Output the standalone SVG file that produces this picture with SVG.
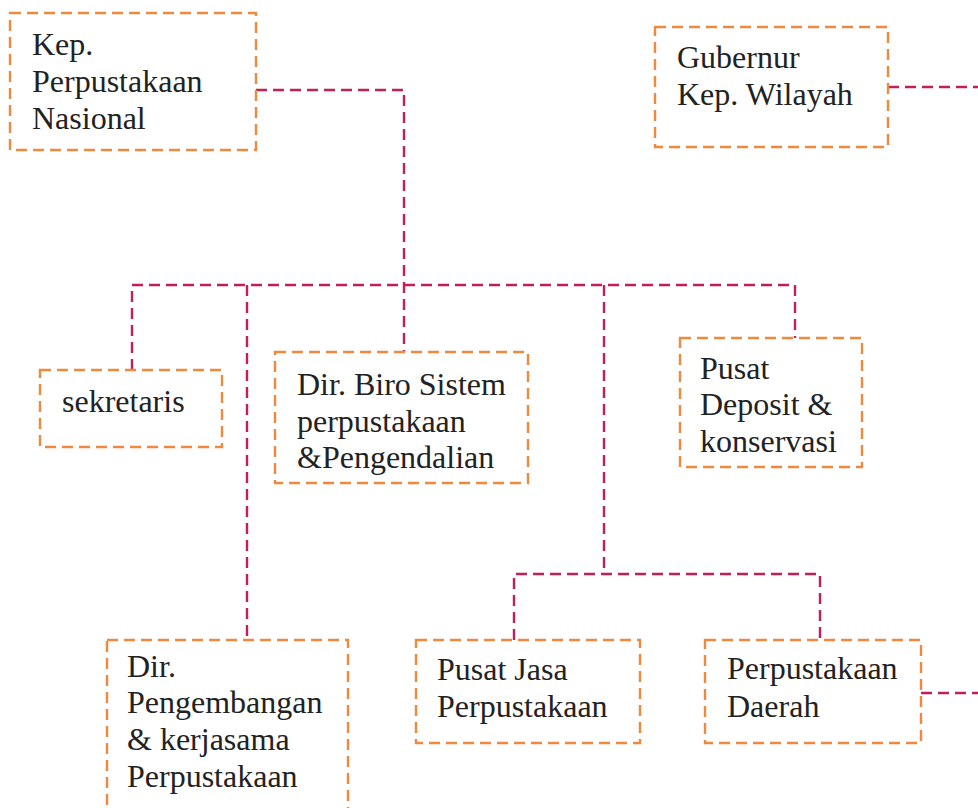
<svg xmlns="http://www.w3.org/2000/svg" width="978" height="808" viewBox="0 0 978 808">
<style>
.box{fill:#ffffff;stroke:#f0883e;stroke-width:2.4;stroke-dasharray:11 6}
.con{fill:none;stroke:#c41e5a;stroke-width:2.4;stroke-dasharray:11 6}
</style>
<rect width="978" height="808" fill="#ffffff"/>
<g id="connectors">
<path class="con" d="M256 90 H404 V352"/>
<path class="con" d="M888 87 H978"/>
<path class="con" d="M132 370 V285 H795 V338"/>
<path class="con" d="M247 285 V640"/>
<path class="con" d="M604 285 V574"/>
<path class="con" d="M514 640 V574 H820 V640"/>
<path class="con" d="M921 693 H978"/>
</g>
<g id="kep-perpustakaan-nasional" font-family="Liberation Serif" font-size="32" fill="#222">
<rect class="box" x="10" y="13" width="246" height="137"/>
<text x="32" y="55">Kep.</text>
<text x="32" y="92">Perpustakaan</text>
<text x="32" y="129">Nasional</text>
</g>
<g id="gubernur" font-family="Liberation Serif" font-size="32" fill="#222">
<rect class="box" x="655" y="27" width="233" height="120"/>
<text x="677" y="68">Gubernur</text>
<text x="677" y="105">Kep. Wilayah</text>
</g>
<g id="sekretaris" font-family="Liberation Serif" font-size="32" fill="#222">
<rect class="box" x="40" y="370" width="182" height="77"/>
<text x="62" y="412">sekretaris</text>
</g>
<g id="dir-biro" font-family="Liberation Serif" font-size="32" fill="#222">
<rect class="box" x="275" y="352" width="253" height="131"/>
<text x="297" y="395">Dir. Biro Sistem</text>
<text x="297" y="432">perpustakaan</text>
<text x="297" y="468">&amp;Pengendalian</text>
</g>
<g id="pusat-deposit" font-family="Liberation Serif" font-size="32" fill="#222">
<rect class="box" x="680" y="338" width="182" height="129"/>
<text x="700" y="379">Pusat</text>
<text x="700" y="415">Deposit &amp;</text>
<text x="700" y="452">konservasi</text>
</g>
<g id="dir-pengembangan" font-family="Liberation Serif" font-size="32" fill="#222">
<rect class="box" x="107" y="640" width="241" height="190"/>
<text x="127" y="677">Dir.</text>
<text x="127" y="713">Pengembangan</text>
<text x="127" y="750">&amp; kerjasama</text>
<text x="127" y="787">Perpustakaan</text>
</g>
<g id="pusat-jasa" font-family="Liberation Serif" font-size="32" fill="#222">
<rect class="box" x="416" y="640" width="224" height="103"/>
<text x="437" y="680">Pusat Jasa</text>
<text x="437" y="717">Perpustakaan</text>
</g>
<g id="perpustakaan-daerah" font-family="Liberation Serif" font-size="32" fill="#222">
<rect class="box" x="705" y="640" width="216" height="103"/>
<text x="727" y="679">Perpustakaan</text>
<text x="727" y="717">Daerah</text>
</g>
</svg>
